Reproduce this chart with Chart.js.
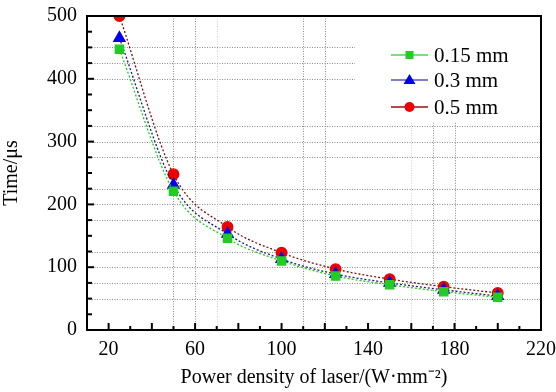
<!DOCTYPE html>
<html>
<head>
<meta charset="utf-8">
<script src="https://cdn.jsdelivr.net/npm/chart.js@4"></script>
<style>
  html, body { margin: 0; padding: 0; background: #fff; }
  #wrap { width: 556px; height: 392px; }
</style>
</head>
<body>
<div id="wrap"><canvas id="chart" width="556" height="392"></canvas></div>
<script>
// power density of laser (W/mm^2)
const power = [25, 50, 75, 100, 125, 150, 175, 200];
// time (us) for each spot size
const t015 = [447, 221, 146, 110, 86, 72, 61, 52];
const t03 = [465, 231, 153, 113, 89, 75, 64, 54];
const t05 = [500, 248, 164, 123, 97, 81, 69, 59];
const seriesNames = ['0.15 mm', '0.3 mm', '0.5 mm'];
const xLabels = [20, 60, 100, 140, 180, 220];

const serif = "'Liberation Serif', 'Times New Roman', serif";

function pts(ys) {
  return power.map((x, i) => ({ x: x, y: ys[i] }));
}

// dotted grid drawn by hand, since the original only has some of the lines
const gridPlugin = {
  id: 'dotGrid',
  beforeDatasetsDraw(chart) {
    const { ctx, chartArea: a, scales: { x, y } } = chart;
    ctx.save();
    ctx.lineWidth = 1;
    ctx.setLineDash([1, 1.5]);
    // horizontal lines [value, stop at x value]
    const hl = [[50], [75], [100], [125], [175], [200], [225], [275], [300], [325], [400, 134], [425, 134], [450, 134]];
    hl.forEach(h => {
      const py = Math.round(y.getPixelForValue(h[0])) + 0.5;
      const x2 = h[1] ? x.getPixelForValue(h[1]) : a.right;
      ctx.strokeStyle = '#8a8a8a';
      ctx.beginPath(); ctx.moveTo(a.left, py); ctx.lineTo(x2, py); ctx.stroke();
    });
    // vertical lines [value, colour, start at y value]
    const vl = [[50, '#8a8a8a'], [60, '#8a8a8a'], [70, '#d0d0d0'], [110, '#8a8a8a'], [120, '#8a8a8a'],
                [160, '#d0d0d0', 330], [170, '#8a8a8a', 330], [180, '#8a8a8a', 330]];
    vl.forEach(v => {
      const px = Math.round(x.getPixelForValue(v[0])) + 0.5;
      const y1 = v[2] ? y.getPixelForValue(v[2]) : a.top;
      ctx.strokeStyle = v[1];
      ctx.beginPath(); ctx.moveTo(px, y1); ctx.lineTo(px, a.bottom); ctx.stroke();
    });
    ctx.restore();
  },
  afterDraw(chart) {
    const { ctx, chartArea: a, scales: { x, y } } = chart;
    ctx.save();
    ctx.setLineDash([]);
    ctx.strokeStyle = '#000';
    // frame
    ctx.lineWidth = 2;
    ctx.strokeRect(a.left, a.top, a.right - a.left, a.bottom - a.top);
    // inward ticks
    ctx.lineWidth = 2;
    for (let v = 20; v <= 210; v += 10) {
      const px = x.getPixelForValue(v);
      const len = v % 20 === 0 ? 7 : 4;
      ctx.beginPath(); ctx.moveTo(px, a.bottom); ctx.lineTo(px, a.bottom - len); ctx.stroke();
    }
    for (let v = 25; v < 500; v += 25) {
      const py = y.getPixelForValue(v);
      const len = v % 100 === 0 ? 7 : 5;
      ctx.beginPath(); ctx.moveTo(a.left, py); ctx.lineTo(a.left + len, py); ctx.stroke();
    }
    // legend
    const ds = chart.data.datasets;
    const rows = [39, 64, 91];
    ctx.font = '21px ' + serif;
    ctx.textBaseline = 'middle';
    ctx.fillStyle = '#000';
    const lx1 = a.right - 150, lx2 = a.right - 113, mx = (lx1 + lx2) / 2;
    const lineCols = ['#44dd44', '#5555bb', '#991111'];
    ds.forEach((d, i) => {
      const ly = a.top + rows[i];
      ctx.strokeStyle = lineCols[i];
      ctx.lineWidth = 1.5;
      ctx.beginPath(); ctx.moveTo(lx1, ly); ctx.lineTo(lx2, ly); ctx.stroke();
      ctx.fillStyle = d.pointBackgroundColor;
      ctx.beginPath();
      if (d.pointStyle === 'rect') {
        ctx.rect(mx - 4, ly - 4, 8, 8);
      } else if (d.pointStyle === 'triangle') {
        ctx.moveTo(mx, ly - 6); ctx.lineTo(mx + 6, ly + 4); ctx.lineTo(mx - 6, ly + 4); ctx.closePath();
      } else {
        ctx.arc(mx, ly, 5, 0, Math.PI * 2);
      }
      ctx.fill();
      ctx.fillStyle = '#000';
      ctx.fillText(seriesNames[i], a.right - 107, ly + 1);
    });
    ctx.restore();
  }
};

function makeSet(label, ys, line, fill, style, r) {
  return {
    label: label,
    data: pts(ys),
    borderColor: line,
    borderWidth: 1.3,
    borderDash: [2, 2],
    backgroundColor: fill,
    pointBackgroundColor: fill,
    pointBorderColor: fill,
    pointStyle: style,
    pointRadius: r,
    cubicInterpolationMode: 'monotone',
    fill: false
  };
}

new Chart(document.getElementById('chart'), {
  type: 'line',
  data: {
    datasets: [
      makeSet(seriesNames[0], t015, '#22cc22', '#22cc22', 'rect', 5.8),
      makeSet(seriesNames[1], t03, '#1a1a80', '#0000ee', 'triangle', 6.5),
      makeSet(seriesNames[2], t05, '#7a1010', '#ee0000', 'circle', 5.3)
    ]
  },
  options: {
    responsive: false,
    animation: false,
    layout: { padding: { top: 16, right: 15, left: 0, bottom: 0 } },
    plugins: { legend: { display: false }, tooltip: { enabled: false } },
    scales: {
      x: {
        type: 'linear',
        min: 10,
        max: 220,
        afterFit(s) { s.height = 62; s.paddingLeft = 0; s.paddingRight = 0; },
        afterBuildTicks(s) { s.ticks = xLabels.map(v => ({ value: v })); },
        grid: { display: false, drawTicks: false },
        border: { display: false },
        ticks: {
          padding: 8,
          color: '#000',
          font: { family: serif, size: 20 },
          maxRotation: 0
        },
        title: {
          display: true,
          text: 'Power density of laser/(W·mm⁻²)',
          color: '#000',
          font: { family: serif, size: 20 },
          padding: { top: 0, bottom: 2 }
        }
      },
      y: {
        min: 0,
        max: 500,
        afterFit(s) { s.width = 87; s.paddingTop = 0; s.paddingBottom = 0; },
        grid: { display: false, drawTicks: false },
        border: { display: false },
        ticks: {
          stepSize: 100,
          padding: 10,
          color: '#000',
          font: { family: serif, size: 20 }
        },
        title: {
          display: true,
          text: 'Time/μs',
          color: '#000',
          font: { family: serif, size: 20 },
          padding: { top: 0, bottom: 6 }
        }
      }
    }
  },
  plugins: [gridPlugin]
});
</script>
</body>
</html>
